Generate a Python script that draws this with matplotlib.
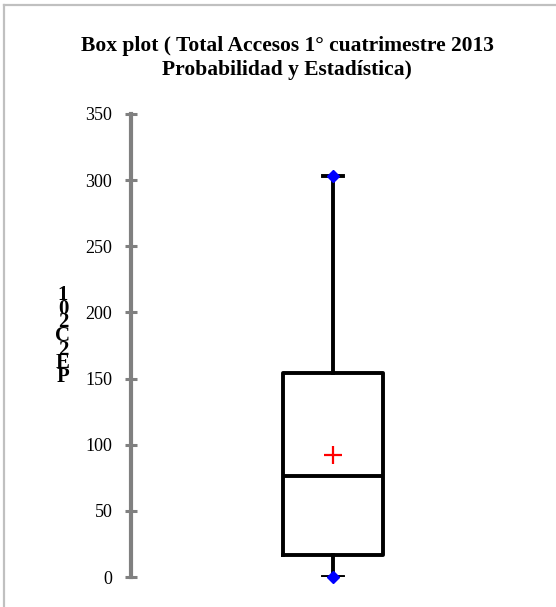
#!/usr/bin/env python3
"""Box plot of total accesses, 1st term 2013 (Probabilidad y Estadistica)."""
import matplotlib
matplotlib.use("Agg")
import matplotlib.pyplot as plt
from matplotlib.lines import Line2D

# summary values
stat_min = 0
q1 = 16.5
median = 76
q3 = 154
stat_max = 303
mean = 92

yticks = [0, 50, 100, 150, 200, 250, 300, 350]
title = "Box plot ( Total Accesos 1° cuatrimestre 2013\nProbabilidad y Estadística)"
ylabel_chars = ["1", "0", "2", "C", "2", "E", "P"]

plt.rcParams["font.family"] = ["Liberation Serif", "DejaVu Serif"]

W, H = 556, 607
fig = plt.figure(figsize=(W / 100, H / 100), dpi=100)

# gray frame (top + left)
fig.add_artist(Line2D([4 / W, 1], [1 - 5 / H, 1 - 5 / H], color="#c0c0c0", lw=1.6))
fig.add_artist(Line2D([4 / W, 4 / W], [0, 1 - 5 / H], color="#c0c0c0", lw=1.6))

ax = fig.add_axes([131 / W, 30 / H, 404 / W, 463 / H])
ax.set_xlim(0, 2)
ax.set_ylim(0, 350)
for s in ["top", "right", "bottom"]:
    ax.spines[s].set_visible(False)
ax.spines["left"].set_color("#808080")
ax.spines["left"].set_linewidth(3)
ax.set_xticks([])
ax.set_yticks(yticks)
ax.tick_params(axis="y", direction="inout", length=9, width=2.2, color="#808080",
               labelsize=13, pad=9)

stats = [{"med": median, "q1": q1, "q3": q3, "whislo": stat_min, "whishi": stat_max,
          "mean": mean, "label": ""}]
lw = 2.8
ax.bxp(stats, positions=[1], widths=0.495, showmeans=True, showfliers=False,
       boxprops=dict(color="black", linewidth=lw),
       medianprops=dict(color="black", linewidth=lw),
       whiskerprops=dict(color="black", linewidth=lw),
       capprops=dict(color="black", linewidth=lw),
       capwidths=0.1,
       meanprops=dict(marker="+", markeredgecolor="red", markersize=13,
                      markeredgewidth=1.6))
ax.plot([1, 1], [stat_min, stat_max], linestyle="none", marker="D", color="blue",
        markersize=6.5, clip_on=False, zorder=5)

fig.text(287 / W, 1 - 58 / H, title, ha="center", va="center", fontsize=15.5,
         fontweight="bold", linespacing=1.3)
fig.text(63 / W, 1 - 336 / H, "\n".join(ylabel_chars), ha="center", va="center",
         fontsize=15, fontweight="bold", linespacing=0.58)

fig.savefig("out.png", dpi=100)
